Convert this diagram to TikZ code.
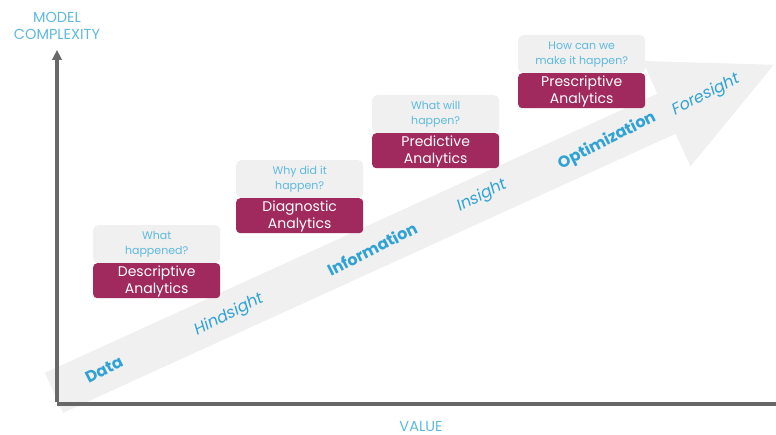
\documentclass[tikz,border=0pt]{standalone}
\usepackage{fontspec}
\setmainfont{Poppins}
\usetikzlibrary{arrows.meta}
\definecolor{magentabox}{RGB}{160,41,94}
\definecolor{qgray}{RGB}{240,240,240}
\definecolor{qblue}{RGB}{94,185,222}
\definecolor{lblue}{RGB}{48,162,212}
\definecolor{axisgray}{RGB}{104,104,104}
\definecolor{arrowgray}{RGB}{240,240,240}
\begin{document}
\begin{tikzpicture}[x=1pt,y=-1pt,
  qbox/.style={fill=qgray, rounded corners=5pt, minimum width=127pt, minimum height=38pt,
    inner sep=0pt, text=qblue, font=\fontsize{11}{15}\selectfont, align=center, anchor=north west},
  abox/.style={fill=magentabox, rounded corners=4pt, minimum width=127pt, minimum height=35pt,
    inner sep=0pt, anchor=north west},
  atext/.style={text=white, font=\fontsize{14}{17}\selectfont, align=center, inner sep=0pt},
  axisline/.style={draw=axisgray, line width=3.2pt},
  axislabel/.style={text=qblue, font=\fontsize{14.5}{17}\selectfont, align=center, inner sep=0pt},
  boldlab/.style={text=lblue, font=\fontsize{16}{18}\selectfont\bfseries, rotate=27, inner sep=0pt},
  lightlab/.style={text=lblue, font=\fontsize{16}{18}\selectfont\itshape, rotate=27, inner sep=0pt}]
\useasboundingbox (0,0) rectangle (776,435);
% big arrow
\begin{scope}[shift={(54,392.8)}, rotate=24.5]
  \fill[arrowgray] (0,-22) -- (673,-22) -- (673,-58) -- (791,0) -- (673,58) -- (673,22) -- (0,22) -- cycle;
\end{scope}
% axes
\coordinate (O) at (57,404);
\coordinate (Ytop) at (57,50);
\coordinate (Xend) at (776,404);
\draw[axisline] (O) -- (Xend);
\draw[axisline, -{Triangle[length=10pt,width=9.5pt]}] ([yshift=1.6pt]O) -- (Ytop);
\node[axislabel] (ylab) at (57,26) {MODEL\\COMPLEXITY};
\node[axislabel] (xlab) at (421,426) {VALUE};
% arrow labels
\node[boldlab] (data) at (104,370) {Data};
\node[lightlab] (hind) at (229,315) {Hindsight};
\node[boldlab] (info) at (372,249) {Information};
\node[lightlab] (ins) at (482,196) {Insight};
\node[boldlab] (opt) at (607,141) {Optimization};
\node[lightlab] (fore) at (706,95) {Foresight};
% boxes
\node[qbox] (q1) at (93,225) {What\\happened?};
\node[abox] (a1) at (93,263) {};
\node[atext] (t1) at ([yshift=-0.5pt]a1.center) {Descriptive\\Analytics};
\node[qbox] (q2) at (236,160) {Why did it\\happen?};
\node[abox] (a2) at (236,198) {};
\node[atext] (t2) at ([yshift=-0.5pt]a2.center) {Diagnostic\\Analytics};
\node[qbox] (q3) at (372,95) {What will\\happen?};
\node[abox] (a3) at (372,133) {};
\node[atext] (t3) at ([yshift=-0.5pt]a3.center) {Predictive\\Analytics};
\node[qbox] (q4) at (518,35) {How can we\\make it happen?};
\node[abox] (a4) at (518,73) {};
\node[atext] (t4) at ([yshift=-0.5pt]a4.center) {Prescriptive\\Analytics};
\end{tikzpicture}
\end{document}
